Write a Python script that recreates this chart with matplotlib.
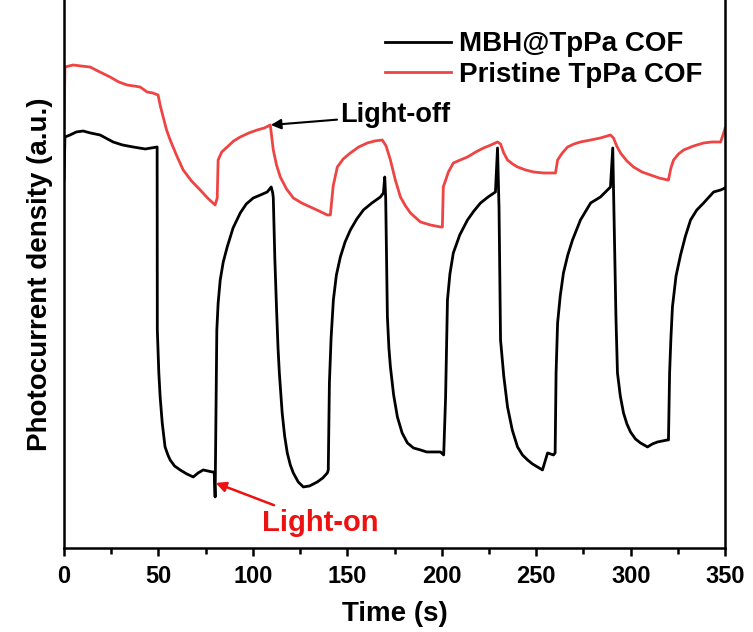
import matplotlib
matplotlib.use("Agg")
import matplotlib.pyplot as plt
from matplotlib.ticker import MultipleLocator

plt.rcParams['font.family'] = ['Liberation Sans', 'DejaVu Sans']
plt.rcParams['font.weight'] = 'bold'

# MBH@TpPa COF photocurrent (time in s, a.u.)
t_mbh = [0, 0.5, 3.2, 6.5, 10.1, 14, 19.1, 23, 26.0, 31, 36.6, 43, 49.3,
         49.4, 50.2, 50.9, 52, 53.5, 55, 56.2, 58.5, 61.5, 65, 68.4, 71, 73.7, 76, 78.4, 79.5,
         80.0, 80.5, 80.9, 81.6, 82.7, 84.3, 86.4, 89.5, 93.3, 96.5, 100.2, 104, 107.6, 109.7, 110.5,
         110.8, 111.6, 112.5, 113.3, 114.0, 115.5, 116.8, 118.2, 119.8, 121.4, 124, 126.7, 130,
         134.1, 137, 139.4, 139.9,
         140.5, 141.4, 142.6, 144.2, 146.3, 148.8, 151.6, 155, 158.5, 163, 167.5, 169.1, 169.8,
         170.3, 171.2, 172.0, 172.8, 174.5, 176.5, 179, 181.8, 185, 188.7, 192, 195.6, 199.3, 201.0,
         202.0, 203.0, 204.3, 206.1, 209.5, 213.6, 217, 220.5, 224.5, 228.4, 229.5,
         230.3, 231.1, 232.8, 234.8, 237.3, 240.1, 242.7, 245.4, 248, 250.7, 253.3, 256.0, 259.1, 260.0,
         260.5, 261.3, 262.7, 264.4, 266.7, 269.2, 273.4, 278.8, 284.0, 289.3, 290.5,
         291.3, 292.2, 293.0, 294.5, 296.2, 298, 299.9, 302.5, 305.2, 308.9, 311.5, 314.2, 319.5, 320.0,
         320.6, 321.3, 322.1, 324, 326.4, 329, 331.7, 335, 338.6, 343.9, 347.6, 350]
y_mbh = [3.68, 4.11, 4.13, 4.16, 4.17, 4.15, 4.13, 4.09, 4.06, 4.03, 4.01, 3.99, 4.01,
         2.18, 1.75, 1.51, 1.25, 1.01, 0.93, 0.88, 0.82, 0.78, 0.74, 0.71, 0.75, 0.78, 0.77, 0.76, 0.76,
         0.51, 1.50, 2.18, 2.45, 2.68, 2.86, 3.01, 3.20, 3.35, 3.44, 3.50, 3.53, 3.56, 3.61, 3.55,
         3.50, 2.90, 2.40, 2.00, 1.75, 1.35, 1.12, 0.95, 0.83, 0.75, 0.66, 0.61, 0.62,
         0.66, 0.70, 0.75, 0.78,
         1.65, 2.10, 2.48, 2.73, 2.91, 3.06, 3.18, 3.29, 3.38, 3.45, 3.51, 3.55, 3.71,
         3.50, 2.31, 2.00, 1.81, 1.53, 1.31, 1.15, 1.05, 1.00, 0.98, 0.96, 0.96, 0.96, 0.93,
         1.50, 2.48, 2.74, 2.95, 3.13, 3.28, 3.37, 3.45, 3.51, 3.56, 4.00,
         3.40, 2.08, 1.72, 1.41, 1.18, 1.01, 0.93, 0.88, 0.84, 0.81, 0.78, 0.95, 0.93, 0.95,
         1.75, 2.25, 2.52, 2.75, 2.93, 3.08, 3.28, 3.45, 3.51, 3.61, 4.00,
         3.20, 2.30, 1.75, 1.52, 1.35, 1.24, 1.16, 1.09, 1.05, 1.01, 1.04, 1.06, 1.08, 1.08,
         1.75, 2.10, 2.41, 2.72, 2.93, 3.12, 3.28, 3.38, 3.45, 3.56, 3.58, 3.60]

# Pristine TpPa COF photocurrent
t_pri = [0, 0.5, 4.8, 9, 13.8, 19, 24.4, 29, 33.4, 37, 40.3, 44, 47, 49.8,
         51, 52.5, 54.3, 56.2, 59.5, 63.1, 67.5, 72.1, 76, 80,
         81.1, 81.6, 83.5, 86.4, 89.8, 93.3, 97.8, 102.3, 106, 109.2,
         110.8, 112.5, 114.5, 117.8, 121.4, 125.8, 130.4, 135, 139.4, 141.0,
         142.5, 144.7, 147.8, 151.6, 156, 160.6, 164.5, 168.5, 170.5,
         172.8, 175.4, 178.1, 180.8, 183.4, 188.7, 194, 199.3, 200.3,
         200.8, 203.5, 206.1, 209.8, 213.6, 218, 222.1, 226, 229.5, 231.1,
         232.8, 234.8, 237.5, 240.1, 244.4, 248.6, 254, 259.1, 260.2,
         261.3, 263.8, 266.6, 270, 273.4, 278.8, 284, 289.3, 290.9,
         292.6, 294.6, 298, 301.5, 306, 310.5, 315, 319.5, 320.0,
         321.3, 322.7, 325.3, 328, 333.3, 338.6, 343, 347.6, 349.2, 350]
y_pri = [4.20, 4.81, 4.83, 4.82, 4.81, 4.76, 4.71, 4.66, 4.63, 4.62, 4.61, 4.56, 4.55, 4.53,
         4.42, 4.31, 4.18, 4.08, 3.93, 3.78, 3.67, 3.58, 3.50, 3.43,
         3.50, 3.88, 3.96, 4.01, 4.07, 4.11, 4.15, 4.18, 4.20, 4.23,
         3.98, 3.83, 3.71, 3.59, 3.50, 3.45, 3.41, 3.37, 3.33, 3.33,
         3.62, 3.81, 3.89, 3.95, 4.01, 4.05, 4.07, 4.08, 4.02,
         3.88, 3.68, 3.51, 3.42, 3.35, 3.26, 3.23, 3.21, 3.21,
         3.61, 3.76, 3.85, 3.88, 3.91, 3.96, 4.00, 4.03, 4.06, 4.04,
         3.95, 3.88, 3.84, 3.81, 3.78, 3.76, 3.75, 3.75, 3.75,
         3.88, 3.95, 4.01, 4.04, 4.06, 4.08, 4.10, 4.13, 4.10,
         4.02, 3.95, 3.87, 3.81, 3.76, 3.73, 3.70, 3.68, 3.68,
         3.80, 3.88, 3.94, 3.98, 4.02, 4.05, 4.06, 4.06, 4.15, 4.20]

fig = plt.figure(figsize=(7.53, 6.32), dpi=100)
ax = fig.add_axes([0.085, 0.133, 0.878, 0.867])

ax.plot(t_mbh, y_mbh, color='black', lw=2.0, label='MBH@TpPa COF')
ax.plot(t_pri, y_pri, color='#EE4444', lw=2.0, label='Pristine TpPa COF')

ax.set_xlim(0, 350)
ax.set_ylim(0, 5.48)
ax.xaxis.set_major_locator(MultipleLocator(50))
ax.xaxis.set_minor_locator(MultipleLocator(25))
ax.set_yticks([])
ax.tick_params(axis='x', which='major', direction='out', length=6, width=1.8,
               labelsize=17, pad=6)
ax.tick_params(axis='x', which='minor', direction='out', length=4, width=1.8)
for lab in ax.get_xticklabels():
    lab.set_fontweight('bold')
for s in ['left', 'right', 'bottom']:
    ax.spines[s].set_linewidth(1.8)
ax.spines['top'].set_visible(False)

ax.set_xlabel('Time (s)', fontsize=20, fontweight='bold', labelpad=10)
ax.set_ylabel('Photocurrent density (a.u.)', fontsize=20, fontweight='bold', labelpad=8)

ax.legend(loc='upper left', frameon=False, handlelength=2.35, handletextpad=0.3,
          borderaxespad=0, borderpad=0, labelspacing=0.17,
          bbox_to_anchor=(0.486, 0.943), prop={'weight': 'bold', 'size': 20})

ax.annotate('Light-off', xy=(109.5, 4.23), xytext=(146, 4.33),
            fontsize=19.5, fontweight='bold', color='black', va='center', ha='left',
            arrowprops=dict(arrowstyle='-|>', color='black', lw=1.5, mutation_scale=15,
                            shrinkA=0, shrinkB=0))
ax.annotate('Light-on', xy=(80.3, 0.65), xytext=(105, 0.25),
            fontsize=21, fontweight='bold', color='#EE1111', va='center', ha='left',
            arrowprops=dict(arrowstyle='-|>', color='#EE1111', lw=1.8, mutation_scale=15,
                            shrinkA=2, shrinkB=0))

fig.savefig('out.png', dpi=100)
